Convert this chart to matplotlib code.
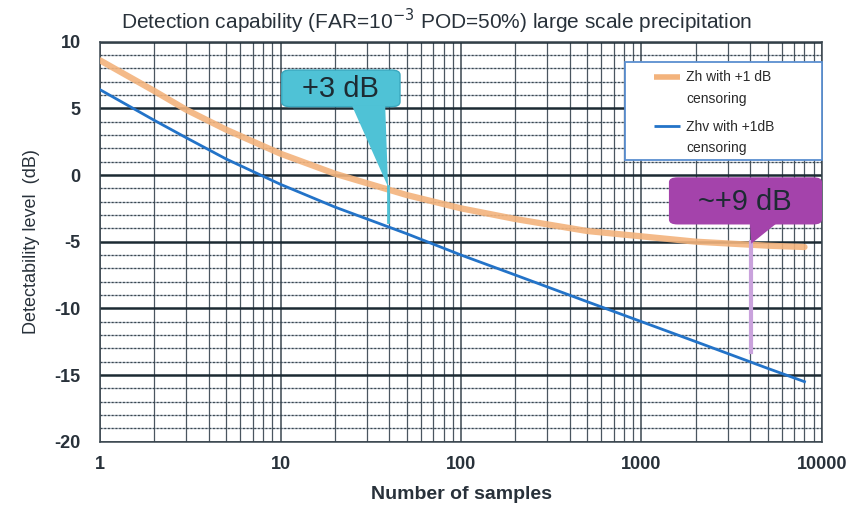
import numpy as np
import matplotlib
matplotlib.use("Agg")
import matplotlib.pyplot as plt
from matplotlib.patches import FancyBboxPatch, Polygon, Rectangle

# ---- data ----
samples = [1, 2, 3, 5, 10, 20, 50, 100, 200, 500, 1000, 2000, 5000, 8000]
zh_db = [8.6, 6.3, 4.9, 3.4, 1.6, 0.1, -1.5, -2.5, -3.3, -4.2, -4.6, -5.0, -5.3, -5.4]
zhv_db = [6.4, 4.1, 2.8, 1.2, -0.7, -2.4, -4.4, -6.0, -7.5, -9.5, -11.0, -12.5, -14.5, -15.5]
series_labels = ["Zh with +1 dB\ncensoring", "Zhv with +1dB\ncensoring"]
x_ticks = [1, 10, 100, 1000, 10000]
x_ticklabels = ["1", "10", "100", "1000", "10000"]
y_ticks = [-20, -15, -10, -5, 0, 5, 10]
title = "Detection capability (FAR=10$^{-3}$ POD=50%) large scale precipitation"
xlabel = "Number of samples"
ylabel = "Detectability level  (dB)"
ann1_text = "+3 dB"
ann2_text = "~+9 dB"

plt.rcParams['font.family'] = ['Liberation Sans', 'DejaVu Sans']
plt.rcParams['axes.unicode_minus'] = False
txt = '#28313a'

fig = plt.figure(figsize=(8.6, 5.23), dpi=100)
ax = fig.add_axes([0.1163, 0.1555, 0.8395, 0.7648])
ax.set_xscale('log')
ax.set_xlim(1, 10000)
ax.set_ylim(-20, 10)

# grid
ax.set_axisbelow(True)
ax.xaxis.set_minor_locator(matplotlib.ticker.LogLocator(base=10, subs=np.arange(2, 10)))
ax.xaxis.set_minor_formatter(matplotlib.ticker.NullFormatter())
ax.yaxis.set_minor_locator(matplotlib.ticker.MultipleLocator(1))
ax.grid(which='major', axis='x', color='#3b4750', lw=1.1)
ax.grid(which='minor', axis='x', color='#4a5660', lw=0.9)
ax.grid(which='major', axis='y', color='#1c2a33', lw=1.8)
minor_y = [v for v in range(-19, 10) if v % 5 != 0]
ax.hlines(minor_y, 1, 10000, colors='#a3afba', lw=0.9, zorder=0.5)
ax.grid(which='minor', axis='y', color='#3b4750', lw=0.9, linestyle=(0, (1.5, 1.5)))
for s in ax.spines.values():
    s.set_color('#3b4750')
    s.set_linewidth(1.1)

ax.tick_params(which='both', length=0)
ax.set_xticks(x_ticks)
ax.set_xticklabels(x_ticklabels)
ax.set_yticks(y_ticks)
ax.tick_params(axis='x', pad=10, labelsize=13, labelcolor=txt)
ax.tick_params(axis='y', pad=14, labelsize=13, labelcolor=txt)
for lbl in ax.get_xticklabels() + ax.get_yticklabels():
    lbl.set_fontweight('bold')

ax.set_xlabel(xlabel, fontsize=14, fontweight='bold', color=txt, labelpad=10)
ax.set_ylabel(ylabel, fontsize=13, color=txt, labelpad=10)
ax.set_title(title, fontsize=15, color=txt, pad=9, x=0.466)

# curves
ax.plot(samples, zh_db, color='#f3b37c', lw=4.5, alpha=0.9, solid_capstyle='round', zorder=3)
ax.plot(samples, zhv_db, color='#2373c8', lw=2.0, zorder=4)

# legend (frame + entries, positioned in axes fraction)
ax.add_patch(Rectangle((0.727, 0.704), 0.273, 0.245, transform=ax.transAxes,
                       facecolor='white', edgecolor='#5b8fd0', lw=1.3, zorder=6, clip_on=False))
leg_colors = ['#f3b37c', '#2373c8']
leg_widths = [4.0, 2.0]
leg_y = [0.911, 0.788]
for lab, col, lw_, yy in zip(series_labels, leg_colors, leg_widths, leg_y):
    ax.plot([0.768, 0.803], [yy, yy], transform=ax.transAxes, color=col, lw=lw_, zorder=7,
            solid_capstyle='butt')
    ax.text(0.812, yy + 0.017, lab, transform=ax.transAxes, ha='left', va='top',
            fontsize=10, color='#2a2a2a', linespacing=1.65, zorder=7)

# annotation +3 dB (cyan)
cyan = '#4fc2d6'
box1 = FancyBboxPatch((0.2517, 0.8375), 0.1638, 0.0915, boxstyle='round,pad=0,rounding_size=0.012',
                      transform=ax.transAxes, facecolor=cyan, edgecolor='#3aa9c0', lw=1, zorder=7)
ax.add_patch(box1)
tri1 = Polygon([(0.349, 0.84), (0.395, 0.84), (0.399, 0.637)], closed=True, transform=ax.transAxes,
               facecolor=cyan, edgecolor='none', zorder=7)
ax.add_patch(tri1)
ax.plot([0.399, 0.399], [0.64, 0.55], transform=ax.transAxes, color=cyan, lw=2, zorder=7)
ax.text(0.3336, 0.881, ann1_text, transform=ax.transAxes, ha='center', va='center',
        fontsize=21, color='#1d2b33', zorder=8)

# annotation ~+9 dB (purple)
purple = '#a443ab'
ax.plot([0.902, 0.902], [0.50, 0.225], transform=ax.transAxes, color='#c9a2dc', lw=3, zorder=5)
box2 = FancyBboxPatch((0.788, 0.543), 0.212, 0.118, boxstyle='round,pad=0,rounding_size=0.012',
                      transform=ax.transAxes, facecolor=purple, edgecolor='none', zorder=7, clip_on=False)
ax.add_patch(box2)
tri2 = Polygon([(0.90, 0.55), (0.94, 0.55), (0.902, 0.495)], closed=True, transform=ax.transAxes,
               facecolor=purple, edgecolor='none', zorder=7)
ax.add_patch(tri2)
ax.text(0.893, 0.600, ann2_text, transform=ax.transAxes, ha='center', va='center',
        fontsize=21, color='#1d2b33', zorder=8)

fig.savefig('out.png', dpi=100)
